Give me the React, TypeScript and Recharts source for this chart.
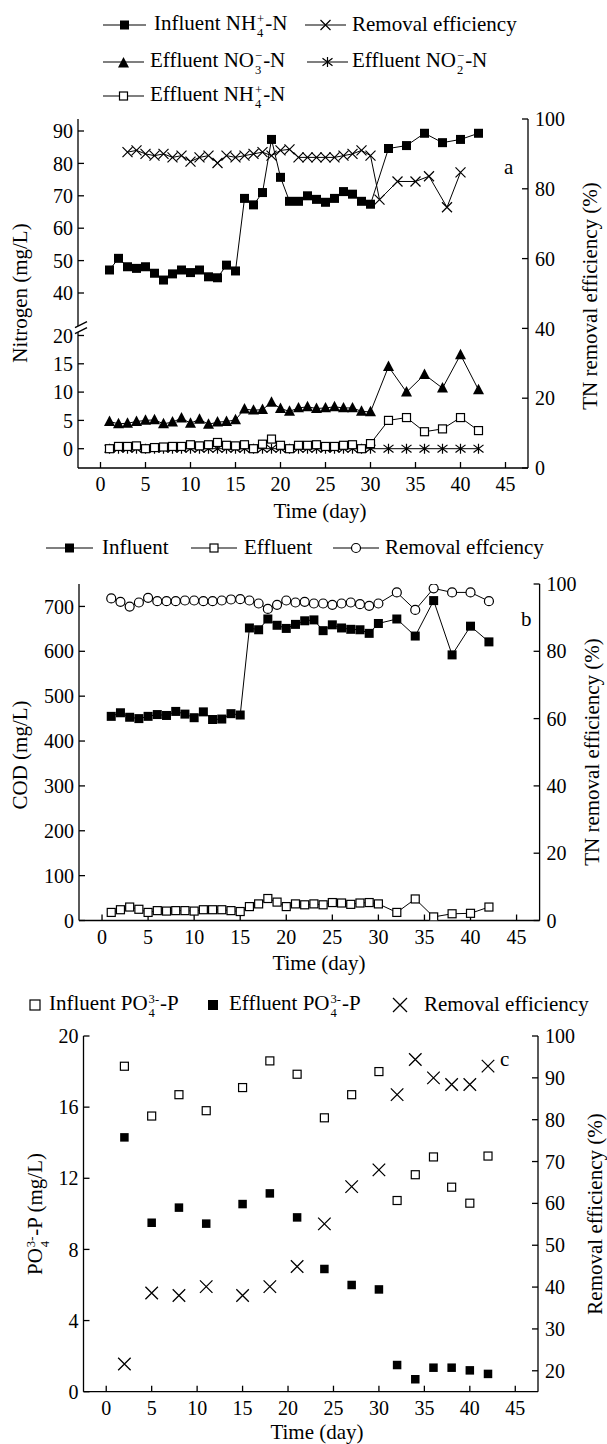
import React from 'react';
import { ComposedChart, Line, XAxis, YAxis, ReferenceDot } from 'recharts';

const FONT = '"Liberation Serif", "Times New Roman", Times, serif';

// ---------- shared x axis ----------
const dayTicks = [0, 5, 10, 15, 20, 25, 30, 35, 40, 45];
const dayDomain: [number, number] = [-2.5, 47.5];

// ---------- panel a : nitrogen ----------
const daysA = [1, 2, 3, 4, 5, 6, 7, 8, 9, 10, 11, 12, 13, 14, 15, 16, 17, 18, 19, 20, 21, 22, 23, 24, 25, 26, 27, 28, 29, 30, 32, 34, 36, 38, 40, 42];
const influentNH4 = [47.1, 50.7, 48.1, 47.6, 48.1, 46.1, 44.0, 45.9, 47.1, 46.3, 47.1, 45.0, 44.7, 48.6, 46.8, 69.2, 67.2, 71.0, 87.4, 75.7, 68.3, 68.3, 70.0, 68.9, 68.0, 69.2, 71.3, 70.5, 68.3, 67.4, 84.6, 85.5, 89.3, 86.4, 87.4, 89.3];
const effluentNO3 = [4.8, 4.4, 4.5, 4.8, 5.0, 5.1, 4.4, 4.7, 5.4, 4.5, 5.2, 4.3, 4.7, 4.8, 5.1, 7.0, 6.8, 6.9, 8.2, 7.1, 6.6, 7.2, 7.4, 7.1, 7.2, 7.4, 7.2, 7.2, 6.6, 6.5, 14.5, 10.0, 13.1, 10.7, 16.6, 10.4];
const effluentNO2 = [0, 0, 0, 0, 0, 0, 0, 0, 0, 0, 0, 0, 0, 0, 0, 0, 0, 0, 0, 0, 0, 0, 0, 0, 0, 0, 0, 0, 0, 0, 0, 0, 0, 0, 0, 0];
const effluentNH4 = [0, 0.4, 0.4, 0.5, 0, 0.2, 0.3, 0.4, 0.4, 0.7, 0.5, 0.7, 1.1, 0.6, 0.5, 0.7, 0, 0.8, 1.7, 0.6, 0, 0.6, 0.6, 0.7, 0.4, 0.4, 0.6, 0.7, 0, 0.9, 5.0, 5.5, 3.0, 3.5, 5.5, 3.2];
const removalDaysA = [3, 4, 5, 6, 7, 8, 9, 10, 11, 12, 13, 14, 15, 16, 17, 18, 19, 20, 21, 22, 23, 24, 25, 26, 27, 28, 29, 30, 31, 33, 35, 36.5, 38.5, 40];
const removalTN = [90.5, 91.0, 90.0, 89.5, 90.0, 89.0, 89.5, 87.8, 89.0, 89.5, 87.4, 89.5, 89.0, 89.5, 90.0, 90.5, 89.5, 91.0, 91.3, 89.0, 89.0, 89.0, 89.0, 89.0, 89.5, 90.0, 91.0, 89.5, 76.9, 82.1, 82.1, 83.6, 74.7, 84.7];
const nitrogenTicks = [0, 5, 10, 15, 20, 40, 50, 60, 70, 80, 90];
const tnTicks = [0, 20, 40, 60, 80, 100];

// ---------- panel b : COD ----------
const daysB = [1, 2, 3, 4, 5, 6, 7, 8, 9, 10, 11, 12, 13, 14, 15, 16, 17, 18, 19, 20, 21, 22, 23, 24, 25, 26, 27, 28, 29, 30, 32, 34, 36, 38, 40, 42];
const influentCOD = [455, 463, 453, 450, 455, 459, 457, 466, 460, 452, 465, 448, 449, 461, 458, 652, 648, 672, 658, 651, 660, 668, 670, 646, 659, 652, 649, 648, 640, 662, 672, 634, 713, 592, 656, 621];
const effluentCOD = [18, 24, 30, 25, 18, 22, 21, 22, 22, 21, 24, 24, 24, 22, 20, 31, 37, 49, 41, 31, 37, 35, 37, 35, 40, 39, 36, 39, 40, 37, 18, 48, 8, 15, 16, 30];
const removalCOD = [95.7, 94.7, 93.3, 94.5, 95.9, 94.9, 94.9, 94.9, 95.1, 95.1, 94.9, 94.9, 95.1, 95.4, 95.5, 95.1, 94.2, 92.6, 93.8, 95.1, 94.5, 94.7, 94.2, 94.2, 93.8, 94.2, 94.5, 94.0, 93.5, 94.2, 97.5, 92.3, 98.7, 97.5, 97.5, 94.9];
const codTicks = [0, 100, 200, 300, 400, 500, 600, 700];
const codMinorTicks = [50, 150, 250, 350, 450, 550, 650];
const codPctTicks = [0, 20, 40, 60, 80, 100];
const codPctMinorTicks = [10, 30, 50, 70, 90];

// ---------- panel c : phosphate ----------
const daysC = [2, 5, 8, 11, 15, 18, 21, 24, 27, 30, 32, 34, 36, 38, 40, 42];
const influentP = [18.3, 15.5, 16.7, 15.8, 17.1, 18.6, 17.85, 15.4, 16.7, 18.0, 10.75, 12.2, 13.2, 11.5, 10.6, 13.25];
const effluentP = [14.3, 9.5, 10.35, 9.45, 10.55, 11.15, 9.8, 6.9, 6.0, 5.75, 1.5, 0.7, 1.35, 1.35, 1.2, 1.0];
const removalP = [21.6, 38.6, 38.0, 40.1, 38.0, 40.1, 44.9, 55.1, 64.0, 68.0, 86.0, 94.4, 90.0, 88.4, 88.4, 92.8];
const pTicks = [0, 4, 8, 12, 16, 20];
const pPctTicks = [20, 30, 40, 50, 60, 70, 80, 90, 100];

// broken left axis of panel a: the library axis is linear in t
const LOW_K = 5.66;
const UP_BASE = 155.7;
const UP_K = 3.24;
const brk = (v: number) => (v <= 30 ? v * LOW_K : UP_BASE + (v - 40) * UP_K);
const fmtN = (t: number) => {
  const hit = nitrogenTicks.find((v) => Math.abs(brk(v) - t) < 0.01);
  return hit === undefined ? '' : String(hit);
};

const rows = (xs: number[], ys: number[], f: (v: number) => number = (v) => v) =>
  xs.map((d, i) => ({ day: d, v: f(ys[i]) }));

// ---------- markers ----------
const FilledSquare = ({ cx, cy, s = 9 }: any) => (
  <rect x={cx - s / 2} y={cy - s / 2} width={s} height={s} fill="#000" />
);
const OpenSquare = ({ cx, cy, s = 8 }: any) => (
  <rect x={cx - s / 2} y={cy - s / 2} width={s} height={s} fill="#fff" stroke="#000" strokeWidth={1.2} />
);
const Triangle = ({ cx, cy, s = 11 }: any) => (
  <polygon points={`${cx},${cy - s * 0.55} ${cx - s / 2},${cy + s * 0.4} ${cx + s / 2},${cy + s * 0.4}`} fill="#000" />
);
const Cross = ({ cx, cy, s = 10, w = 1.2 }: any) => (
  <path d={`M${cx - s / 2},${cy - s / 2}L${cx + s / 2},${cy + s / 2}M${cx - s / 2},${cy + s / 2}L${cx + s / 2},${cy - s / 2}`} stroke="#000" strokeWidth={w} fill="none" />
);
const Star = ({ cx, cy, s = 10 }: any) => (
  <path d={`M${cx - s / 2},${cy - s / 2.6}L${cx + s / 2},${cy + s / 2.6}M${cx - s / 2},${cy + s / 2.6}L${cx + s / 2},${cy - s / 2.6}M${cx},${cy - s / 2}L${cx},${cy + s / 2}`} stroke="#000" strokeWidth={1.2} fill="none" />
);
const OpenCircle = ({ cx, cy, r = 4.5 }: any) => (
  <circle cx={cx} cy={cy} r={r} fill="#fff" stroke="#000" strokeWidth={1.2} />
);

const dotFn = (M: any, extra: any = {}) => (p: any) => <M key={`d${p.index}`} cx={p.cx} cy={p.cy} {...extra} />;

const BreakMark = (p: any) => {
  const { cx, cy } = p;
  return (
    <g>
      <polygon points={`${cx - 3},${cy + 1} ${cx + 9},${cy - 5} ${cx + 9},${cy + 1} ${cx - 3},${cy + 7}`} fill="#fff" />
      <line x1={cx - 3} y1={cy + 1} x2={cx + 9} y2={cy - 5} stroke="#000" strokeWidth={1.3} />
      <line x1={cx - 3} y1={cy + 7} x2={cx + 9} y2={cy + 1} stroke="#000" strokeWidth={1.3} />
    </g>
  );
};

const axisStroke = { stroke: '#000', strokeWidth: 1.3 };
const tickStyle = { fill: '#000', fontSize: 20, fontFamily: FONT };

const lineBase = {
  stroke: '#000',
  strokeWidth: 1,
  isAnimationActive: false,
  activeDot: false,
  legendType: 'none' as const,
  dataKey: 'v',
};

const bottomX = (id: string) => (
  <XAxis xAxisId={id} type="number" dataKey="day" domain={dayDomain} ticks={dayTicks} allowDataOverflow interval={0}
    height={30} tick={tickStyle} tickSize={-6} tickMargin={15} axisLine={axisStroke} tickLine={axisStroke} />
);
const topX = (id: string) => (
  <XAxis xAxisId={id} orientation="top" type="number" dataKey="day" domain={dayDomain} ticks={dayTicks} allowDataOverflow interval={0}
    height={0} tickFormatter={() => ''} tickSize={-6} axisLine={axisStroke} tickLine={axisStroke} />
);
const minorY = (id: string, orientation: 'left' | 'right', domain: [number, number], ticks: number[]) => (
  <YAxis yAxisId={id} orientation={orientation} type="number" domain={domain} ticks={ticks} allowDataOverflow interval={0}
    width={0} tickFormatter={() => ''} tickSize={-3.5} axisLine={false} tickLine={axisStroke} />
);

function PanelA() {
  return (
    <ComposedChart width={607} height={540} margin={{ top: 119, right: 0, bottom: 42, left: 0 }}>
      {bottomX('b')}
      {topX('t')}
      <YAxis yAxisId="l" type="number" domain={[-19.3, 329.7]} ticks={nitrogenTicks.map(brk)} tickFormatter={fmtN} allowDataOverflow interval={0}
        width={78} tick={tickStyle} tickSize={-6} tickMargin={11} axisLine={axisStroke} tickLine={axisStroke} />
      <YAxis yAxisId="r" orientation="right" type="number" domain={[0, 100]} ticks={tnTicks} allowDataOverflow interval={0}
        width={79} tick={tickStyle} tickSize={-6} tickMargin={13} axisLine={axisStroke} tickLine={axisStroke} />
      <Line {...lineBase} xAxisId="b" yAxisId="l" data={rows(daysA, effluentNO2, brk)} dot={dotFn(Star)} />
      <Line {...lineBase} xAxisId="b" yAxisId="l" data={rows(daysA, effluentNH4, brk)} dot={dotFn(OpenSquare)} />
      <Line {...lineBase} xAxisId="b" yAxisId="l" data={rows(daysA, effluentNO3, brk)} dot={dotFn(Triangle)} />
      <Line {...lineBase} xAxisId="b" yAxisId="r" data={rows(removalDaysA, removalTN)} dot={dotFn(Cross)} />
      <Line {...lineBase} xAxisId="b" yAxisId="l" data={rows(daysA, influentNH4, brk)} dot={dotFn(FilledSquare)} />
      <ReferenceDot xAxisId="b" yAxisId="l" x={-2.5} y={122} ifOverflow="visible" shape={BreakMark} />
    </ComposedChart>
  );
}

function PanelB() {
  return (
    <ComposedChart width={607} height={450} margin={{ top: 44, right: 0, bottom: 39.5, left: 0 }}>
      {bottomX('b')}
      {topX('t')}
      {minorY('lm', 'left', [0, 750], codMinorTicks)}
      {minorY('rm', 'right', [0, 100], codPctMinorTicks)}
      <YAxis yAxisId="l" type="number" domain={[0, 750]} ticks={codTicks} allowDataOverflow interval={0}
        width={79} tick={tickStyle} tickSize={-6} tickMargin={11} axisLine={axisStroke} tickLine={axisStroke} />
      <YAxis yAxisId="r" orientation="right" type="number" domain={[0, 100]} ticks={codPctTicks} allowDataOverflow interval={0}
        width={67.4} tick={tickStyle} tickSize={-6} tickMargin={13} axisLine={axisStroke} tickLine={axisStroke} />
      <Line {...lineBase} xAxisId="b" yAxisId="l" data={rows(daysB, effluentCOD)} dot={dotFn(OpenSquare)} />
      <Line {...lineBase} xAxisId="b" yAxisId="l" data={rows(daysB, influentCOD)} dot={dotFn(FilledSquare)} />
      <Line {...lineBase} xAxisId="b" yAxisId="r" data={rows(daysB, removalCOD)} dot={dotFn(OpenCircle)} />
    </ComposedChart>
  );
}

function PanelC() {
  return (
    <ComposedChart width={607} height={454} margin={{ top: 46, right: 0, bottom: 22.3, left: 0 }}>
      {bottomX('b')}
      {topX('t')}
      <YAxis yAxisId="l" type="number" domain={[0, 20]} ticks={pTicks} allowDataOverflow interval={0}
        width={83.5} tick={tickStyle} tickSize={-6} tickMargin={11} axisLine={axisStroke} tickLine={axisStroke} />
      <YAxis yAxisId="r" orientation="right" type="number" domain={[15, 100]} ticks={pPctTicks} allowDataOverflow interval={0}
        width={69} tick={tickStyle} tickSize={-6} tickMargin={13} axisLine={axisStroke} tickLine={axisStroke} />
      <Line {...lineBase} stroke="none" xAxisId="b" yAxisId="l" data={rows(daysC, influentP)} dot={dotFn(OpenSquare)} />
      <Line {...lineBase} stroke="none" xAxisId="b" yAxisId="l" data={rows(daysC, effluentP)} dot={dotFn(FilledSquare, { s: 8.5 })} />
      <Line {...lineBase} stroke="none" xAxisId="b" yAxisId="r" data={rows(daysC, removalP)} dot={dotFn(Cross, { s: 12.5, w: 1.3 })} />
    </ComposedChart>
  );
}

// ---------- text helpers ----------
const SS = ({ sub, sup }: { sub: string; sup: string }) => (
  <span style={{ display: 'inline-flex', flexDirection: 'column', alignItems: 'flex-start', verticalAlign: 'middle', fontSize: '0.6em', lineHeight: 1.05, margin: '0 1px', position: 'relative', top: '0.12em' }}>
    <span>{sup}</span>
    <span>{sub}</span>
  </span>
);

const Txt = ({ x, y, children, anchor = 'start', size = 21 }: any) => (
  <div style={{
    position: 'absolute', left: x, top: y,
    transform: `translate(${anchor === 'middle' ? '-50%' : anchor === 'end' ? '-100%' : '0'}, -50%)`,
    fontSize: size, fontFamily: FONT, lineHeight: 1.2, whiteSpace: 'nowrap', color: '#000',
  }}>{children}</div>
);

const VTxt = ({ x, y, children, size = 21 }: any) => (
  <div style={{
    position: 'absolute', left: x, top: y, transform: 'translate(-50%, -50%) rotate(-90deg)',
    fontSize: size, fontFamily: FONT, lineHeight: 1.2, whiteSpace: 'nowrap', color: '#000',
  }}>{children}</div>
);

const Icon = ({ x, y, w, line = true, children }: any) => (
  <svg style={{ position: 'absolute', left: x, top: y - 10, overflow: 'visible' }} width={w} height={20}>
    {line && <line x1={0} y1={10} x2={w} y2={10} stroke="#000" strokeWidth={1.2} />}
    {children}
  </svg>
);

export default function App() {
  return (
    <div style={{ position: 'absolute', left: 0, top: 0, width: 607, height: 1444, background: '#fff', overflow: 'hidden' }}>
      <div style={{ position: 'absolute', left: 0, top: 0 }}><PanelA /></div>
      <div style={{ position: 'absolute', left: 0, top: 540 }}><PanelB /></div>
      <div style={{ position: 'absolute', left: 0, top: 990 }}><PanelC /></div>

      {/* legend a */}
      <Icon x={103} y={25} w={43}><FilledSquare cx={21.5} cy={10} /></Icon>
      <Txt x={154} y={25}>Influent NH<SS sub="4" sup="+" />-N</Txt>
      <Icon x={305} y={25} w={41}><Cross cx={20.5} cy={10} /></Icon>
      <Txt x={352} y={25}>Removal efficiency</Txt>
      <Icon x={103} y={62} w={41}><Triangle cx={20.5} cy={11} /></Icon>
      <Txt x={150} y={62}>Effluent NO<SS sub="3" sup="−" />-N</Txt>
      <Icon x={307} y={62} w={41}><Star cx={20.5} cy={10} /></Icon>
      <Txt x={352} y={62}>Effluent NO<SS sub="2" sup="−" />-N</Txt>
      <Icon x={103} y={96} w={41}><OpenSquare cx={20.5} cy={10} /></Icon>
      <Txt x={150} y={96}>Effluent NH<SS sub="4" sup="+" />-N</Txt>

      {/* axis titles a */}
      <Txt x={320} y={512} anchor="middle">Time (day)</Txt>
      <VTxt x={21} y={293}>Nitrogen (mg/L)</VTxt>
      <VTxt x={591} y={296}>TN removal efficiency (%)</VTxt>
      <Txt x={504} y={168} size={21}>a</Txt>

      {/* legend b */}
      <Icon x={46} y={548} w={47}><FilledSquare cx={23.5} cy={10} /></Icon>
      <Txt x={102} y={548}>Influent</Txt>
      <Icon x={191} y={548} w={46}><OpenSquare cx={23} cy={10} /></Icon>
      <Txt x={244} y={548}>Effluent</Txt>
      <Icon x={333} y={548} w={46}><OpenCircle cx={23} cy={10} /></Icon>
      <Txt x={385} y={548}>Removal effciency</Txt>

      {/* axis titles b */}
      <Txt x={319} y={964} anchor="middle">Time (day)</Txt>
      <VTxt x={21} y={755}>COD (mg/L)</VTxt>
      <VTxt x={593} y={752}>TN removal efficiency (%)</VTxt>
      <Txt x={521} y={620}>b</Txt>

      {/* legend c */}
      <Icon x={29} y={1005} w={12} line={false}><OpenSquare cx={6} cy={10} s={10} /></Icon>
      <Txt x={49} y={1005}>Influent PO<SS sub="4" sup="3-" />-P</Txt>
      <Icon x={208} y={1005} w={10} line={false}><FilledSquare cx={5} cy={10} s={10} /></Icon>
      <Txt x={229} y={1005}>Effluent PO<SS sub="4" sup="3-" />-P</Txt>
      <Icon x={393} y={1005} w={14} line={false}><Cross cx={7} cy={10} s={14} w={1.3} /></Icon>
      <Txt x={424} y={1005}>Removal efficiency</Txt>

      {/* axis titles c */}
      <Txt x={317} y={1433} anchor="middle">Time (day)</Txt>
      <VTxt x={37} y={1214}>PO<SS sub="4" sup="3-" />-P (mg/L)</VTxt>
      <VTxt x={596} y={1214}>Removal efficiency (%)</VTxt>
      <Txt x={500} y={1060}>c</Txt>
    </div>
  );
}
